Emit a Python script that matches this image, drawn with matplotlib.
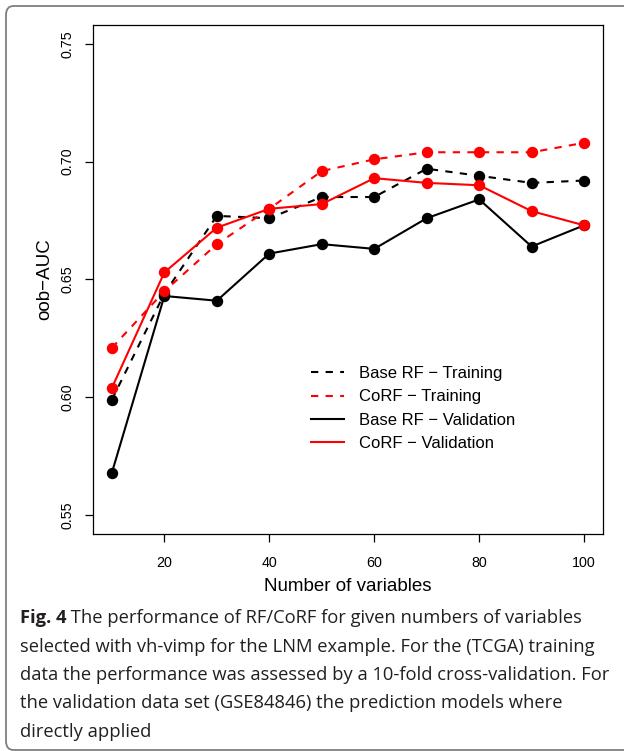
import matplotlib.pyplot as plt
from matplotlib.patches import FancyBboxPatch

# values
n_vars = [10, 20, 30, 40, 50, 60, 70, 80, 90, 100]
base_train = [0.599, 0.644, 0.677, 0.676, 0.685, 0.685, 0.697, 0.694, 0.691, 0.692]
corf_train = [0.621, 0.645, 0.665, 0.680, 0.696, 0.701, 0.704, 0.704, 0.704, 0.708]
base_valid = [0.568, 0.643, 0.641, 0.661, 0.665, 0.663, 0.676, 0.684, 0.664, 0.673]
corf_valid = [0.604, 0.653, 0.672, 0.680, 0.682, 0.693, 0.691, 0.690, 0.679, 0.673]

x_ticks = [20, 40, 60, 80, 100]
y_ticks = [0.55, 0.60, 0.65, 0.70, 0.75]

caption_bold = "Fig. 4"
caption_lines = [
    " The performance of RF/CoRF for given numbers of variables",
    "selected with vh-vimp for the LNM example. For the (TCGA) training",
    "data the performance was assessed by a 10-fold cross-validation. For",
    "the validation data set (GSE84846) the prediction models where",
    "directly applied",
]

plt.rcParams["font.family"] = ["Liberation Sans", "DejaVu Sans"]

W, H = 624, 751
fig = plt.figure(figsize=(W / 100, H / 100), dpi=100)

# rounded frame around the figure, clipped at right/bottom
frame = FancyBboxPatch(
    (6 / W, 1 - 750 / H), 700 / W, 744 / H,
    boxstyle="round,pad=0,rounding_size=0.012",
    transform=fig.transFigure, facecolor="none",
    edgecolor="#7f7f7f", linewidth=1.3, clip_on=False,
)
fig.patches.append(frame)

ax = fig.add_axes([93 / W, 1 - 534 / H, 510 / W, 509 / H])

dash = (0, (3.5, 3.5))
style = dict(marker="o", markersize=7.2, linewidth=1.5)
ax.plot(n_vars, base_train, color="black", linestyle=dash, label="Base RF \u2212 Training", **style)
ax.plot(n_vars, base_valid, color="black", linestyle="-", label="Base RF \u2212 Validation", **style)
ax.plot(n_vars, corf_train, color="red", linestyle=dash, label="CoRF \u2212 Training", **style)
ax.plot(n_vars, corf_valid, color="red", linestyle="-", label="CoRF \u2212 Validation", **style)

ax.set_xlim(6.4, 103.6)
ax.set_ylim(0.542, 0.758)
ax.set_xticks(x_ticks)
ax.set_yticks(y_ticks)
ax.set_yticklabels([f"{v:.2f}" for v in y_ticks])
for s in ax.spines.values():
    s.set_linewidth(0.9)
    s.set_color("black")
ax.tick_params(axis="both", direction="out", length=5.5, width=0.9, labelsize=10.3)
ax.tick_params(axis="x", pad=10)
ax.tick_params(axis="y", pad=8, labelrotation=90)
for lab in ax.get_yticklabels():
    lab.set_va("center")

ax.set_xlabel("Number of variables", fontsize=13.5)
ax.set_ylabel("oob\u2212AUC", fontsize=13.5)
ax.xaxis.set_label_coords(0.5, -0.086)
ax.yaxis.set_label_coords(-0.078, 0.5)

handles, labels = ax.get_legend_handles_labels()
order = [0, 2, 1, 3]
leg = ax.legend(
    [handles[i] for i in order], [labels[i] for i in order],
    loc="upper left", bbox_to_anchor=(0.427, 0.330), frameon=False,
    fontsize=12, handlelength=2.0, handletextpad=0.9, labelspacing=0.5,
    borderpad=0, borderaxespad=0,
)
for h in leg.legend_handles:
    h.set_marker("")

# caption
cap_font = ["Open Sans", "DejaVu Sans"]
cap_size = 13.2
base_y = [623, 651.5, 680, 708.5, 737]
t0 = fig.text(20 / W, 1 - base_y[0] / H, caption_bold, fontsize=cap_size,
              family=cap_font, fontweight="bold", va="baseline", color="#231f20")
fig.canvas.draw()
ax.annotate(caption_lines[0], xy=(1, 0), xycoords=t0, va="bottom",
            fontsize=cap_size, family=cap_font, color="#231f20")
for line, by in zip(caption_lines[1:], base_y[1:]):
    fig.text(20 / W, 1 - by / H, line, fontsize=cap_size, family=cap_font,
             va="baseline", color="#231f20")

fig.savefig("out.png", dpi=100)
